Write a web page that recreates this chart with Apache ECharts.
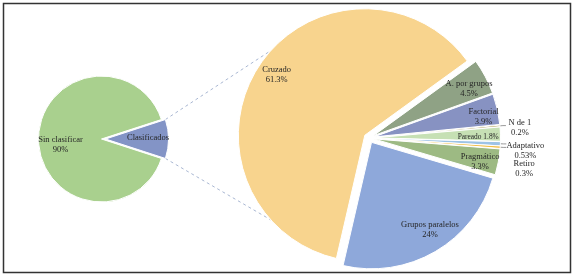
<!DOCTYPE html>
<html>
<head>
<meta charset="utf-8">
<script src="https://cdn.jsdelivr.net/npm/echarts@6/dist/echarts.min.js"></script>
<style>
html,body{margin:0;padding:0;background:#fff;}
#chart{width:575px;height:276px;}
</style>
</head>
<body>
<div id="chart"></div>
<script>
// ---- data ----
const mainCategories = ['Clasificados', 'Sin clasificar'];
const mainValues = [10, 90];
const detailCategories = ['Cruzado', 'A. por grupos', 'Factorial', 'N de 1', 'Pareado', 'Adaptativo', 'Retiro', 'Pragmático', 'Grupos paralelos'];
const detailValues = [61.3, 4.5, 3.9, 0.2, 1.8, 0.53, 0.3, 3.3, 24];

// ---- styles ----
const mainColors = ['#8394C6', '#A9D08E'];
const detailColors = ['#F8D48E', '#8FA285', '#8792C2', '#B3A25C', '#C6E0B4', '#9DC3E6', '#F2BE45', '#9DBA83', '#8EA8DA'];
const outsideLabels = ['N de 1', 'Adaptativo', 'Retiro'];
const singleLineLabels = ['Pareado'];
const noPercentLabels = ['Clasificados'];

// ---- geometry ----
const L = {cx: 103.5, cy: 139, r: 63, off: 2};
const R = {cx: 369, cy: 138, r: 126.5, off: 5};
const leftStart = 18;
const rightStart = 257;

// label offsets (dx, dy) relative to library's default placement
const mainLabelOffsets = {'Clasificados': [8, -1], 'Sin clasificar': [-6.5, 5.5]};
const detailLabelOffsets = {
  'Cruzado': [-33, -24], 'A. por grupos': [37, -15.5], 'Factorial': [45, -5.5],
  'Pareado': [38, 1], 'Pragmático': [41, 10.5], 'Grupos paralelos': [25, 30],
  'N de 1': [9, 2], 'Adaptativo': [14, 6.5], 'Retiro': [13, 21.5]
};

const font = {fontFamily: 'Liberation Serif', fontSize: 8.5, color: '#262626', lineHeight: 10};

function fmt(p) {
  if (noPercentLabels.includes(p.name)) return p.name;
  if (singleLineLabels.includes(p.name)) return p.name + ' ' + p.value + '%';
  return p.name + '\n' + p.value + '%';
}

const mainData = mainCategories.map((n, i) => ({
  name: n, value: mainValues[i], selected: true,
  itemStyle: {color: mainColors[i]}
}));
const detailData = detailCategories.map((n, i) => {
  const d = {name: n, value: detailValues[i], selected: true, itemStyle: {color: detailColors[i]}};
  if (outsideLabels.includes(n)) {
    d.label = {position: 'outside'};
    d.labelLine = {show: true, length: 3, length2: 3, lineStyle: {color: '#7f7f7f', width: 0.8}};
  }
  if (singleLineLabels.includes(n)) {
    d.label = {fontSize: 7.4};
  }
  return d;
});

// connector lines from wedge corners to the detail pie
const toRad = a => a * Math.PI / 180;
const wedgeHalf = mainValues[0] / (mainValues[0] + mainValues[1]) * 180;
const lcx = L.cx + L.off, lcy = L.cy;
const topCorner = [lcx + L.r * Math.cos(toRad(wedgeHalf)), lcy - L.r * Math.sin(toRad(wedgeHalf))];
const botCorner = [lcx + L.r * Math.cos(toRad(wedgeHalf)), lcy + L.r * Math.sin(toRad(wedgeHalf))];
const total = detailValues.reduce((a, b) => a + b, 0);
const cruzMid = rightStart - detailValues[0] / total * 180;
const ccx = R.cx + R.off * Math.cos(toRad(cruzMid)), ccy = R.cy - R.off * Math.sin(toRad(cruzMid));
const tgt = 138;
const topEnd = [ccx + R.r * Math.cos(toRad(tgt)), ccy - R.r * Math.sin(toRad(tgt))];
const botEnd = [ccx + R.r * Math.cos(toRad(tgt)), ccy + R.r * Math.sin(toRad(tgt))];

const chart = echarts.init(document.getElementById('chart'), null, {renderer: 'canvas'});
chart.setOption({
  animation: false,
  graphic: [
    {type: 'rect', z: 100, shape: {x: 3.5, y: 3.5, width: 567, height: 269},
     style: {fill: 'none', stroke: '#333', lineWidth: 1.5}},
    {type: 'line', z: 0, shape: {x1: topCorner[0], y1: topCorner[1], x2: topEnd[0], y2: topEnd[1]},
     style: {stroke: '#A9B7D2', lineWidth: 1, lineDash: [3, 3]}},
    {type: 'line', z: 0, shape: {x1: botCorner[0], y1: botCorner[1], x2: botEnd[0], y2: botEnd[1]},
     style: {stroke: '#A9B7D2', lineWidth: 1, lineDash: [3, 3]}}
  ],
  series: [
    {
      type: 'pie', z: 5, center: [L.cx, L.cy], radius: L.r, startAngle: leftStart, clockwise: true,
      selectedMode: 'multiple', selectedOffset: L.off, avoidLabelOverlap: false,
      itemStyle: {borderColor: '#fff', borderWidth: 1},
      label: Object.assign({show: true, position: 'inside', formatter: fmt, align: 'center'}, font),
      labelLine: {show: false},
      emphasis: {disabled: true},
      select: {itemStyle: {borderColor: '#fff', borderWidth: 1}},
      labelLayout: p => { const o = mainLabelOffsets[mainCategories[p.dataIndex]]; return o ? {dx: o[0], dy: o[1]} : {}; },
      data: mainData
    },
    {
      type: 'pie', z: 5, center: [R.cx, R.cy], radius: R.r, startAngle: rightStart, clockwise: true,
      selectedMode: 'multiple', selectedOffset: R.off, avoidLabelOverlap: false,
      itemStyle: {borderColor: '#fff', borderWidth: 1},
      label: Object.assign({show: true, position: 'inside', formatter: fmt, align: 'center'}, font),
      labelLine: {show: false},
      emphasis: {disabled: true},
      select: {itemStyle: {borderColor: '#fff', borderWidth: 1}},
      labelLayout: p => {
        const n = detailCategories[p.dataIndex];
        const o = detailLabelOffsets[n];
        const res = o ? {dx: o[0], dy: o[1]} : {};
        if (outsideLabels.includes(n)) res.align = 'center';
        return res;
      },
      data: detailData
    }
  ]
});
</script>
</body>
</html>
